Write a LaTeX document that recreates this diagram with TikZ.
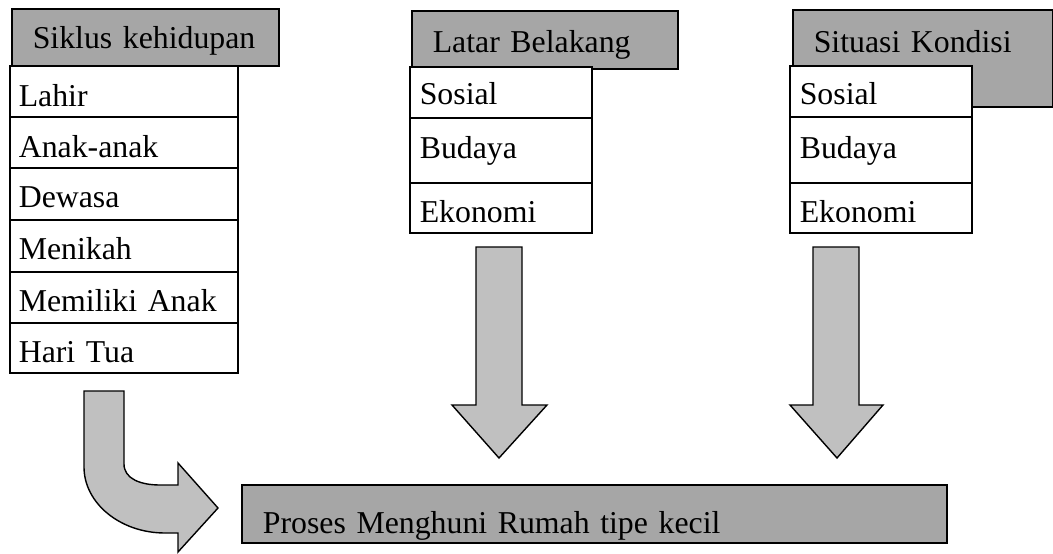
\documentclass[tikz,border=0pt]{standalone}
\usepackage{fontspec}
\setmainfont{Liberation Serif}
\begin{document}
\begin{tikzpicture}[x=1pt,y=-1pt,
  every node/.style={font=\fontsize{31.8}{38}\selectfont},
  header/.style={draw, line width=1.6pt, fill=headgray, inner xsep=21pt, inner ysep=0pt,
    align=left, anchor=base west},
  cell/.style={draw, line width=1.6pt, fill=white, inner ysep=0pt,
    align=left, anchor=base west},
  blockarrow/.style={draw, line width=1.4pt, fill=arrowgray, line join=miter}
]
\definecolor{headgray}{HTML}{A6A6A6}
\definecolor{arrowgray}{HTML}{C0C0C0}
\useasboundingbox (0,0) rectangle (1053,554);

% ---- headers
\node[header, text width=225pt, text height=39pt, text depth=18pt] (siklus) at (11,48) {Siklus kehidupan};
\node[header, text width=224pt, text height=41pt, text depth=17pt] (latar) at (411,52) {Latar Belakang};
\node[header, text width=218pt, text height=42pt, text depth=55pt] (situasi) at (792,52) {Situasi Kondisi};

% ---- life cycle list
\begin{scope}[every node/.append style={cell, inner xsep=9pt, text width=210pt}]
\node[text height=40pt, text depth=11pt] (lahir)  at (9,106) {Lahir};
\node[text height=40pt, text depth=11pt] (anak)   at (9,157) {Anak-anak};
\node[text height=39pt, text depth=13pt] (dewasa) at (9,207) {Dewasa};
\node[text height=39pt, text depth=13pt] (nikah)  at (9,259) {Menikah};
\node[text height=39pt, text depth=12pt] (punya)  at (9,311) {Memiliki Anak};
\node[text height=39pt, text depth=11pt] (tua)    at (9,362) {Hari Tua};
\end{scope}

% ---- background list
\begin{scope}[every node/.append style={cell, inner xsep=10pt, text width=162pt}]
\node[text height=37pt, text depth=14pt] (lsosial)  at (409,104) {Sosial};
\node[text height=40pt, text depth=25pt] (lbudaya)  at (409,158) {Budaya};
\node[text height=39pt, text depth=11pt] (lekonomi) at (409,222) {Ekonomi};
\end{scope}

% ---- situation list
\begin{scope}[every node/.append style={cell, inner xsep=10pt, text width=162pt}]
\node[text height=38pt, text depth=13pt] (ssosial)  at (789,104) {Sosial};
\node[text height=41pt, text depth=25pt] (sbudaya)  at (789,158) {Budaya};
\node[text height=39pt, text depth=11pt] (sekonomi) at (789,222) {Ekonomi};
\end{scope}

% ---- result box
\node[header, line width=1.8pt, text width=663pt, text height=48pt, text depth=10pt] (proses) at (241,533) {Proses Menghuni Rumah tipe kecil};

% ---- block arrows
\draw[blockarrow] (476,247) -- (522,247) -- (522,405) -- (547,405) -- (499,458)
  -- (452,405) -- (476,405) -- cycle;
\draw[blockarrow] (813,247) -- (859,247) -- (859,405) -- (883,405) -- (837,458)
  -- (790,405) -- (813,405) -- cycle;
\draw[blockarrow] (84,391) -- (124,391) -- (124,464)
  .. controls (124,479) and (141,485) .. (160,485)
  -- (178,485) -- (178,463) -- (218,508) -- (178,552) -- (178,533) -- (165,533)
  .. controls (120,533) and (84,503) .. (84,467) -- cycle;
\end{tikzpicture}
\end{document}
